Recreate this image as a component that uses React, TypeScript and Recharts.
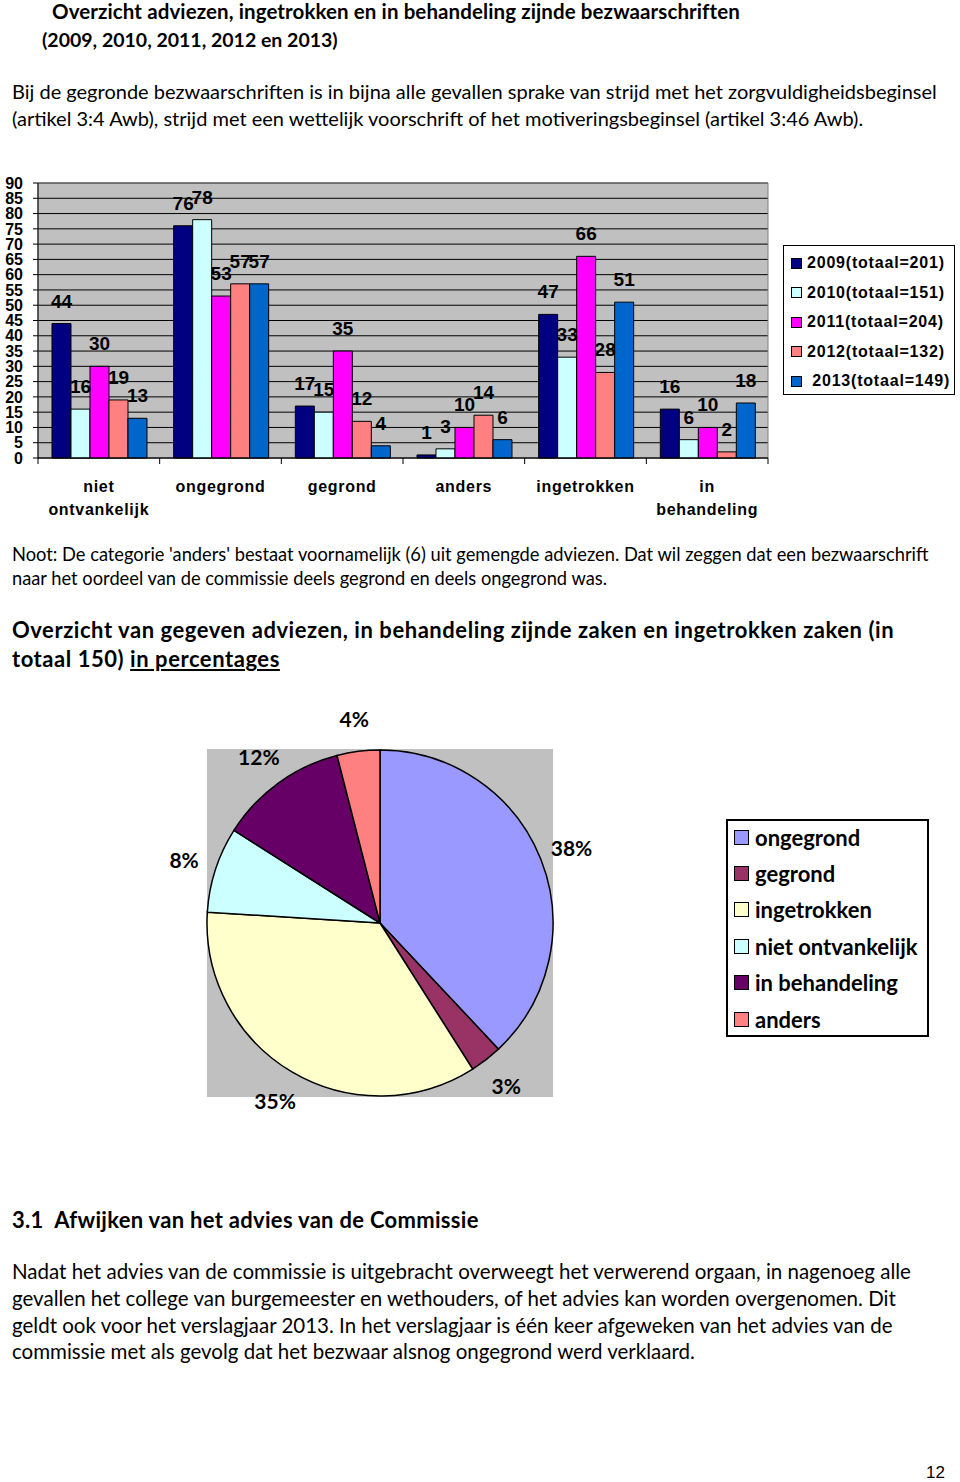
import React from 'react';
import { BarChart, Bar, XAxis, YAxis, CartesianGrid, Legend, LabelList, ReferenceArea, PieChart, Pie, Cell } from 'recharts';

const ARIAL = '"Liberation Sans", Arial, sans-serif';
const BODY = 'Lato, "Open Sans", sans-serif';

// bar chart data
const categories = ['niet ontvankelijk', 'ongegrond', 'gegrond', 'anders', 'ingetrokken', 'in behandeling'];
const values2009 = [44, 76, 17, 1, 47, 16];
const values2010 = [16, 78, 15, 3, 33, 6];
const values2011 = [30, 53, 35, 10, 66, 10];
const values2012 = [19, 57, 12, 14, 28, 2];
const values2013 = [13, 57, 4, 6, 51, 18];
const seriesKeys = ['s2009', 's2010', 's2011', 's2012', 's2013'];
const seriesNames = ['2009(totaal=201)', '2010(totaal=151)', '2011(totaal=204)', '2012(totaal=132)', ' 2013(totaal=149)'];
const seriesColors = ['#000080', '#CCFFFF', '#FF00FF', '#FF8080', '#0066CC'];
const yTicks = [0, 5, 10, 15, 20, 25, 30, 35, 40, 45, 50, 55, 60, 65, 70, 75, 80, 85, 90];

// pie data
const pieNames = ['ongegrond', 'gegrond', 'ingetrokken', 'niet ontvankelijk', 'in behandeling', 'anders'];
const piePercentages = [38, 3, 35, 8, 12, 4];
const pieColors = ['#9999FF', '#993366', '#FFFFCC', '#CCFFFF', '#660066', '#FF8080'];

const barData = categories.map((name, i) => ({
  name,
  s2009: values2009[i],
  s2010: values2010[i],
  s2011: values2011[i],
  s2012: values2012[i],
  s2013: values2013[i],
}));

const pieData = pieNames.map((name, i) => ({ name, value: piePercentages[i] }));

const PLOT_W = 730;
const BAND = PLOT_W / categories.length;

function CategoryTick(props: any) {
  const { x, y, payload, index } = props;
  const words = String(payload.value).split(' ');
  const lines = words.length > 1 ? [words[0], words.slice(1).join(' ')] : [payload.value];
  return (
    <g>
      <line x1={x - BAND / 2} x2={x - BAND / 2} y1={y} y2={y + 6} stroke="#000" />
      {index === categories.length - 1 && <line x1={x + BAND / 2} x2={x + BAND / 2} y1={y} y2={y + 6} stroke="#000" />}
      {lines.map((l, i) => (
        <text key={i} x={x} y={y + 34 + i * 23} textAnchor="middle" fontFamily={ARIAL} fontWeight={700} fontSize={16} letterSpacing={0.7} fill="#000">
          {l}
        </text>
      ))}
    </g>
  );
}

// keep legend entries in series order
function ordered(payload: any[], names: string[]) {
  return [...payload].sort((a, b) => names.indexOf(a.value) - names.indexOf(b.value));
}

function BarLegend(props: any) {
  const items = ordered(props.payload || [], seriesNames);
  return (
    <div style={{ position: 'relative', width: 172, height: 150, boxSizing: 'border-box', border: '1.5px solid #000', background: '#fff' }}>
      {items.map((p: any, i: number) => (
        <div key={i} style={{ position: 'absolute', left: 7, top: 7 + i * 29.5, height: 20, display: 'flex', alignItems: 'center' }}>
          <span style={{ display: 'inline-block', width: 9, height: 9, background: p.color, border: '1px solid #000', marginRight: 5 }} />
          <span style={{ whiteSpace: 'pre', fontFamily: ARIAL, fontWeight: 700, fontSize: 16, letterSpacing: 0.8, color: '#000' }}>{p.value}</span>
        </div>
      ))}
    </div>
  );
}

function PieLegend(props: any) {
  const items = ordered(props.payload || [], pieNames);
  return (
    <div style={{ position: 'relative', width: 203, height: 218, boxSizing: 'border-box', border: '2px solid #000', background: '#fff' }}>
      {items.map((p: any, i: number) => (
        <div key={i} style={{ position: 'absolute', left: 6, top: 3 + i * 36.4, height: 26, display: 'flex', alignItems: 'center' }}>
          <span style={{ display: 'inline-block', width: 13, height: 13, background: p.color, border: '1px solid #000', marginRight: 6 }} />
          <span style={{ whiteSpace: 'nowrap', fontFamily: BODY, fontWeight: 700, fontSize: 22, color: '#000' }}>{p.value}</span>
        </div>
      ))}
    </div>
  );
}

const RADIAN = Math.PI / 180;
function renderPieLabel(props: any) {
  const { cx, cy, midAngle, outerRadius, value } = props;
  const r = outerRadius + 33;
  const x = cx + r * Math.cos(-midAngle * RADIAN);
  const y = cy + r * Math.sin(-midAngle * RADIAN);
  return (
    <text x={x} y={y} textAnchor="middle" dominantBaseline="central" fontFamily={BODY} fontWeight={700} fontSize={21} fill="#000">
      {value}%
    </text>
  );
}

function Line({ top, left = 12, size, weight = 400, spacing = 0, children }: any) {
  return (
    <div style={{ position: 'absolute', left, top: top - size * 0.62, fontFamily: BODY, fontSize: size, fontWeight: weight, letterSpacing: spacing, lineHeight: `${size * 1.2}px`, whiteSpace: 'nowrap', color: '#000' }}>
      {children}
    </div>
  );
}

export default function App() {
  return (
    <div style={{ position: 'absolute', left: 0, top: 0, width: 960, height: 1482, background: '#fff', overflow: 'hidden' }}>
      <Line top={12} left={52} size={20.5} weight={700} spacing={0.1}>Overzicht adviezen, ingetrokken en in behandeling zijnde bezwaarschriften</Line>
      <Line top={40} left={42} size={19.5} weight={700}>(2009, 2010, 2011, 2012 en 2013)</Line>
      <Line top={91} size={20}>Bij de gegronde bezwaarschriften is in bijna alle gevallen sprake van strijd met het zorgvuldigheidsbeginsel</Line>
      <Line top={118} size={20}>(artikel 3:4 Awb), strijd met een wettelijk voorschrift of het motiveringsbeginsel (artikel 3:46 Awb).</Line>

      <div style={{ position: 'absolute', left: 0, top: 170 }}>
        <BarChart width={960} height={370} data={barData} margin={{ top: 13, right: 192, bottom: 0, left: 0 }} barCategoryGap="11.5%" barGap={0}>
          <CartesianGrid vertical={false} stroke="#000" fill="#C0C0C0" fillOpacity={1} />
          <ReferenceArea y1={0} y2={90} stroke="#808080" fill="none" fillOpacity={0} />
          <XAxis dataKey="name" interval={0} height={82} axisLine={{ stroke: '#000' }} tickLine={false} tickSize={0} tickMargin={0} tick={<CategoryTick />} />
          <YAxis domain={[0, 90]} ticks={yTicks} interval={0} width={38} tickSize={5} tickMargin={10}
            axisLine={{ stroke: '#000' }} tickLine={{ stroke: '#000' }}
            tick={{ fontFamily: ARIAL, fontWeight: 700, fontSize: 16, fill: '#000' }} />
          <Legend layout="vertical" align="center" verticalAlign="middle" content={<BarLegend />}
            wrapperStyle={{ left: 783, top: 75, width: 172, height: 150 }} />
          {seriesKeys.map((k, i) => (
            <Bar key={k} dataKey={k} name={seriesNames[i]} fill={seriesColors[i]} stroke="#000" strokeWidth={1} isAnimationActive={false}>
              <LabelList dataKey={k} position="top" offset={16} fill="#000" stroke="none" fontFamily={ARIAL} fontWeight={700} fontSize={19} />
            </Bar>
          ))}
        </BarChart>
      </div>

      <Line top={555} size={18.3}>Noot: De categorie 'anders' bestaat voornamelijk (6) uit gemengde adviezen. Dat wil zeggen dat een bezwaarschrift</Line>
      <Line top={579} size={18.3}>naar het oordeel van de commissie deels gegrond en deels ongegrond was.</Line>
      <Line top={631} size={22} weight={700} spacing={0.55}>Overzicht van gegeven adviezen, in behandeling zijnde zaken en ingetrokken zaken (in</Line>
      <Line top={660} size={22} weight={700} spacing={0.55}>totaal 150) <span style={{ textDecoration: 'underline' }}>in percentages</span></Line>

      <div style={{ position: 'absolute', left: 0, top: 700, width: 960, height: 420 }}>
        <div style={{ position: 'absolute', left: 207, top: 49, width: 346, height: 348, background: '#C0C0C0' }} />
        <div style={{ position: 'absolute', left: 0, top: 0 }}>
          <PieChart width={960} height={420} margin={{ top: 0, right: 0, bottom: 0, left: 0 }}>
            <Pie data={pieData} dataKey="value" nameKey="name" cx={380} cy={223} outerRadius={173} startAngle={90} endAngle={-270}
              stroke="#000" strokeWidth={1.5} isAnimationActive={false} label={renderPieLabel} labelLine={false}>
              {pieData.map((d, i) => (
                <Cell key={d.name} fill={pieColors[i]} />
              ))}
            </Pie>
            <Legend layout="vertical" align="center" verticalAlign="middle" content={<PieLegend />}
              wrapperStyle={{ left: 726, top: 119, width: 203, height: 218 }} />
          </PieChart>
        </div>
      </div>

      <Line top={1221} size={22} weight={700} spacing={0.3}>3.1&nbsp; Afwijken van het advies van de Commissie</Line>
      <Line top={1272} size={20.5}>Nadat het advies van de commissie is uitgebracht overweegt het verwerend orgaan, in nagenoeg alle</Line>
      <Line top={1299} size={20.5}>gevallen het college van burgemeester en wethouders, of het advies kan worden overgenomen. Dit</Line>
      <Line top={1326} size={20.5}>geldt ook voor het verslagjaar 2013. In het verslagjaar is één keer afgeweken van het advies van de</Line>
      <Line top={1352} size={20.5}>commissie met als gevolg dat het bezwaar alsnog ongegrond werd verklaard.</Line>

      <div style={{ position: 'absolute', left: 926, top: 1462, fontFamily: ARIAL, fontSize: 17, lineHeight: '22px', color: '#000' }}>12</div>
    </div>
  );
}
